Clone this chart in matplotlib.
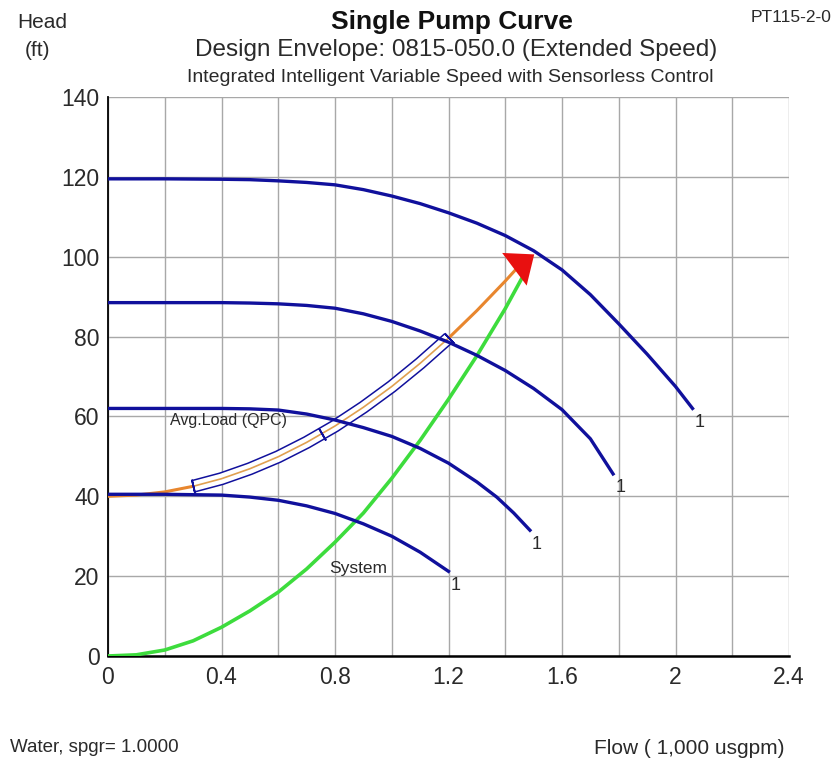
import matplotlib
matplotlib.use("Agg")
import matplotlib.pyplot as plt

plt.rcParams['font.family'] = ['Liberation Sans', 'DejaVu Sans']

# pump curves at four speeds (flow in 1,000 usgpm, head in ft)
q_speed1 = [0, 0.2, 0.4, 0.5, 0.6, 0.7, 0.8, 0.9, 1.0, 1.1, 1.2, 1.3, 1.4, 1.5, 1.6,
            1.7, 1.8, 1.9, 2.0, 2.06]
h_speed1 = [119.5, 119.5, 119.4, 119.3, 119.0, 118.6, 118.0, 116.8, 115.2, 113.3, 111.0,
            108.4, 105.3, 101.5, 96.7, 90.5, 83.2, 75.6, 67.5, 62.0]

q_speed2 = [0, 0.2, 0.4, 0.5, 0.6, 0.7, 0.8, 0.9, 1.0, 1.1, 1.2, 1.3, 1.4, 1.5, 1.6, 1.7, 1.78]
h_speed2 = [88.5, 88.5, 88.5, 88.4, 88.2, 87.8, 87.1, 85.7, 83.8, 81.4, 78.6, 75.3, 71.5,
            67.0, 61.7, 54.4, 45.6]

q_speed3 = [0, 0.2, 0.4, 0.5, 0.6, 0.7, 0.8, 0.9, 1.0, 1.1, 1.2, 1.3, 1.37, 1.43, 1.487]
h_speed3 = [62.0, 62.0, 62.0, 61.9, 61.6, 60.6, 59.1, 57.2, 55.0, 52.0, 48.3, 43.6, 39.8,
            35.8, 31.5]

q_speed4 = [0, 0.2, 0.4, 0.5, 0.6, 0.7, 0.8, 0.9, 1.0, 1.1, 1.2]
h_speed4 = [40.5, 40.5, 40.3, 39.8, 39.0, 37.6, 35.7, 33.1, 30.0, 26.0, 21.2]

pump_curves = [(q_speed1, h_speed1), (q_speed2, h_speed2),
               (q_speed3, h_speed3), (q_speed4, h_speed4)]

# system curve
q_system = [0, 0.1, 0.2, 0.3, 0.4, 0.5, 0.6, 0.7, 0.8, 0.9, 1.0, 1.1, 1.2, 1.3, 1.4, 1.46]
h_system = [0, 0.3, 1.5, 3.8, 7.2, 11.3, 16.0, 21.8, 28.5, 35.8, 44.5, 54.0, 64.3, 75.2, 87.0, 94.8]

# control curve (sensorless control)
q_control = [0, 0.1, 0.2, 0.3, 0.4, 0.5, 0.6, 0.7, 0.8, 0.9, 1.0, 1.1, 1.2, 1.3, 1.4, 1.45]
h_control = [40.0, 40.3, 41.1, 42.5, 44.4, 46.9, 49.9, 53.5, 57.6, 62.3, 67.5, 73.3, 79.6,
             86.5, 93.9, 97.8]

# avg load band along the control curve
q_band = [0.3, 0.4, 0.5, 0.6, 0.7, 0.8, 0.9, 1.0, 1.1, 1.2]
h_band = [42.5, 44.4, 46.9, 49.9, 53.5, 57.6, 62.3, 67.5, 73.3, 79.6]
q_avg, h_avg = 0.755, 55.7

duty_point = (1.51, 101.0)
speed_labels = ['1', '1', '1', '1']

x_ticks = [0, 0.4, 0.8, 1.2, 1.6, 2, 2.4]
x_tick_labels = ['0', '0.4', '0.8', '1.2', '1.6', '2', '2.4']
y_ticks = [0, 20, 40, 60, 80, 100, 120, 140]

navy = '#10109c'
text_col = '#2a2a2a'

fig = plt.figure(figsize=(8.4, 7.64), dpi=100)
ax = fig.add_axes([108 / 840, 1 - 656 / 764, 681 / 840, 559 / 764])

ax.set_xlim(0, 2.4)
ax.set_ylim(0, 140)
ax.set_xticks([i * 0.2 for i in range(13)], minor=True)
ax.set_xticks(x_ticks)
ax.set_xticklabels(x_tick_labels)
ax.set_yticks(y_ticks)
ax.grid(True, which='both', axis='x', color='#a8a8a8', lw=1.0)
ax.grid(True, which='major', axis='y', color='#a8a8a8', lw=1.0)
ax.set_axisbelow(True)
ax.tick_params(which='both', length=0, labelsize=16.5, labelcolor=text_col)
ax.tick_params(axis='x', pad=7)
ax.tick_params(axis='y', pad=6)
for side in ['top', 'right']:
    ax.spines[side].set_visible(False)
ax.spines['left'].set_linewidth(1.3)
ax.spines['bottom'].set_linewidth(1.8)

# system curve
ax.plot(q_system, h_system, color='#3ddc3d', lw=2.6, solid_capstyle='round', zorder=3)

# control curve and avg load band
ax.plot(q_control, h_control, color='#e8862e', lw=2.2, zorder=3)
ax.plot(q_band, h_band, color=navy, lw=9.5, solid_capstyle='butt', zorder=4)
ax.plot(q_band, h_band, color='white', lw=7.3, solid_capstyle='butt', zorder=4)
ax.plot(q_band, h_band, color='#e0a050', lw=1.2, zorder=4)
# end caps and avg load mark, drawn across the band
ax.plot([q_band[0]], [h_band[0]], marker=(2, 2, 13), color=navy, ms=10, mew=1.3, zorder=4)
ax.plot([q_band[-1]], [h_band[-1]], marker=(2, 2, 43), color=navy, ms=10, mew=1.3, zorder=4)
ax.plot([q_avg], [h_avg], marker=(2, 2, 30), color=navy, ms=10, mew=1.3, zorder=4)
ax.text(0.22, 59, 'Avg.Load (QPC)', fontsize=11.5, color=text_col, va='center', ha='left', zorder=6)

# arrow to duty point
ax.annotate('', xy=duty_point, xytext=(q_control[-1], h_control[-1]),
            arrowprops=dict(arrowstyle='-|>,head_length=0.85,head_width=0.7',
                            color='#e81010', lw=0, mutation_scale=21), zorder=6)

# pump curves
for (q, h), lab in zip(pump_curves, speed_labels):
    ax.plot(q, h, color=navy, lw=2.4, zorder=5)
    ax.text(q[-1] + 0.025, h[-1] - 3.5, lab, fontsize=13, color=text_col,
            ha='center', va='center', zorder=6)

ax.text(0.78, 22, 'System', fontsize=12.5, color=text_col, ha='left', va='center', zorder=6)

# titles and labels
fig.text(452 / 840, 1 - 22 / 764, 'Single Pump Curve', fontsize=19, fontweight='bold',
         ha='center', va='center', color='#111111')
fig.text(456 / 840, 1 - 50 / 764, 'Design Envelope: 0815-050.0 (Extended Speed)',
         fontsize=17.5, ha='center', va='center', color=text_col)
fig.text(450 / 840, 1 - 78 / 764, 'Integrated Intelligent Variable Speed with Sensorless Control',
         fontsize=14, ha='center', va='center', color=text_col)
fig.text(17 / 840, 1 - 22 / 764, 'Head', fontsize=15, ha='left', va='center', color=text_col)
fig.text(25 / 840, 1 - 50 / 764, '(ft)', fontsize=15, ha='left', va='center', color=text_col)
fig.text(832 / 840, 1 - 18 / 764, 'PT115-2-0', fontsize=12.5, ha='right', va='center', color=text_col)
fig.text(10 / 840, 1 - 748 / 764, 'Water, spgr= 1.0000', fontsize=13.5, ha='left', va='center', color=text_col)
fig.text(785 / 840, 1 - 748 / 764, 'Flow ( 1,000 usgpm)', fontsize=15, ha='right', va='center', color=text_col)

fig.savefig('out.png', dpi=100)
